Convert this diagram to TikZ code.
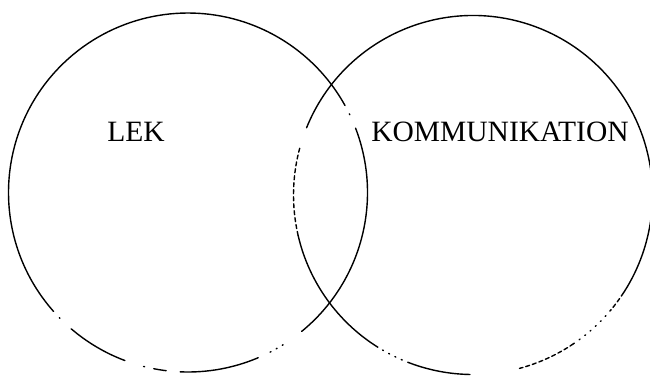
\documentclass[tikz,border=0pt]{standalone}
\usepackage{fontspec}
\setmainfont{Liberation Serif}
\newcommand\ringarc[5]{\draw[#1] ([shift={(#3:#5)}]#2) arc[start angle=#3,end angle=#4,radius=#5];}
\begin{document}
\begin{tikzpicture}[x=1pt,y=-1pt,
  ring/.style={draw=black,line width=1.4pt,line cap=round},
  brokenring/.style={ring,dash pattern=on 4pt off 3pt},
  dotring/.style={ring,dash pattern=on 1pt off 6pt}]
\useasboundingbox[fill=white] (0,0) rectangle (650,376);
\coordinate (cl) at (188,192.5);
\coordinate (cr) at (473,195);
% left circle (LEK)
\ringarc{ring}{cl}{138.5}{331}{179.5}
\ringarc{dotring}{cl}{334}{336}{179.5}
\ringarc{ring}{cl}{339}{410.7}{179.5}
\ringarc{dotring}{cl}{58}{64}{179.5}
\ringarc{ring}{cl}{67}{92.5}{179.5}
\ringarc{ring}{cl}{97}{101}{179.5}
\ringarc{dotring}{cl}{104}{105}{179.5}
\ringarc{ring}{cl}{110.6}{130.6}{179.5}
\ringarc{dotring}{cl}{135.5}{136.5}{179.5}
% right circle (KOMMUNIKATION)
\ringarc{ring}{cr}{202}{393}{179.5}
\ringarc{brokenring}{cr}{33}{40}{179.5}
\ringarc{dotring}{cr}{40}{56}{179.5}
\ringarc{brokenring}{cr}{56}{75}{179.5}
\ringarc{ring}{cr}{91}{111}{179.5}
\ringarc{dotring}{cr}{111}{122}{179.5}
\ringarc{ring}{cr}{122}{167}{179.5}
\ringarc{brokenring}{cr}{167}{196}{179.5}
\node[font=\fontsize{29.5}{31}\selectfont,inner sep=0pt] (lek) at (136,132) {LEK};
\node[font=\fontsize{29.5}{31}\selectfont,inner sep=0pt] (kom) at (500,132) {KOMMUNIKATION};
\end{tikzpicture}
\end{document}
